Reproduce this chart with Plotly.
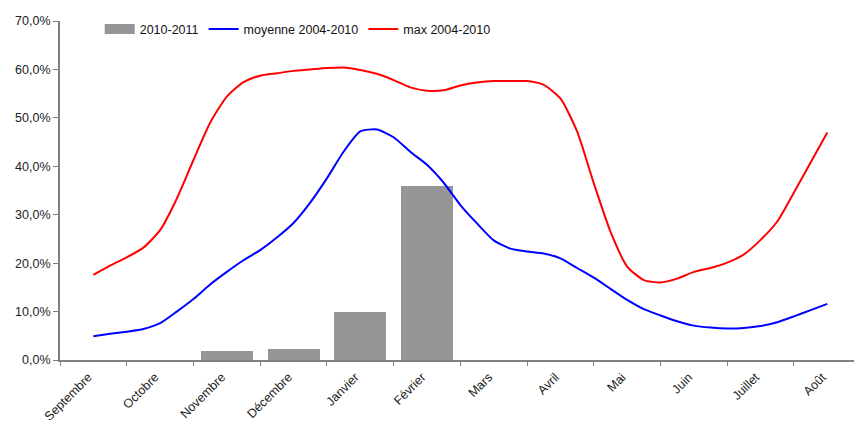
import plotly.graph_objects as go

# Month categories (hydrological year, September to August)
months = ["Septembre", "Octobre", "Novembre", "Décembre", "Janvier", "Février",
          "Mars", "Avril", "Mai", "Juin", "Juillet", "Août"]

# 2010-2011 monthly values (%)
bar_months = ["Novembre", "Décembre", "Janvier", "Février"]
bar_values = [1.8, 2.2, 10.0, 36.0]

# Weekly-ish readings (4 per month), expressed as month position from Septembre
line_x = [i * 0.25 for i in range(45)]

moyenne = [4.9, 5.4, 5.85, 6.4, 7.6, 10.0, 12.6, 15.6, 18.2, 20.6, 22.7, 25.3,
           28.3, 32.5, 37.5, 43.0, 47.2, 47.6, 46.0, 43.0, 40.3, 36.6, 32.0, 28.2,
           24.7, 23.0, 22.4, 22.0, 21.0, 19.0, 17.0, 14.7, 12.4, 10.5, 9.2, 8.0,
           7.1, 6.7, 6.5, 6.6, 7.0, 7.8, 9.0, 10.3, 11.6]

maximum = [17.6, 19.5, 21.2, 23.2, 26.8, 33.3, 41.3, 49.0, 54.4, 57.4, 58.7, 59.2,
           59.7, 60.0, 60.3, 60.4, 59.9, 59.1, 57.8, 56.3, 55.6, 55.7, 56.7, 57.3,
           57.6, 57.6, 57.6, 56.8, 54.0, 47.2, 36.5, 26.5, 19.3, 16.5, 16.0, 16.8,
           18.2, 19.0, 20.1, 21.8, 24.8, 28.6, 34.6, 40.8, 47.0]

bar_x = [months.index(m) for m in bar_months]
x_range = [-0.5, 11.4]
bar_color = "#969696"

fig = go.Figure()
fig.add_trace(go.Bar(x=bar_x, y=bar_values, width=0.78, name="2010-2011",
                     marker=dict(color=bar_color, line=dict(width=0)),
                     showlegend=False))
# Legend entry for the bars drawn as a wide grey swatch
fig.add_trace(go.Scatter(x=[None], y=[None], mode="lines", name="2010-2011",
                         line=dict(color=bar_color, width=10)))
fig.add_trace(go.Scatter(x=line_x, y=moyenne, mode="lines", name="moyenne 2004-2010",
                         line=dict(color="#0000FF", width=2, shape="spline", smoothing=0.6)))
fig.add_trace(go.Scatter(x=line_x, y=maximum, mode="lines", name="max 2004-2010",
                         line=dict(color="#FF0000", width=2, shape="spline", smoothing=0.6)))

# Invisible helper trace so the boundary-tick axis gets drawn
fig.add_trace(go.Scatter(x=[x_range[0]], y=[0], xaxis="x2", mode="markers",
                         marker=dict(opacity=0), showlegend=False, hoverinfo="skip"))

font_family = "Liberation Sans, Arial, sans-serif"

fig.update_layout(
    width=854, height=426,
    margin=dict(l=60, r=0, t=21, b=66),
    paper_bgcolor="white", plot_bgcolor="white",
    separators=", ",
    font=dict(family=font_family, size=12, color="#222222"),
    showlegend=True,
    legend=dict(orientation="h", x=0.05, y=0.975, xanchor="left", yanchor="middle",
                bgcolor="rgba(0,0,0,0)", font=dict(size=12.5, color="#111111"),
                itemwidth=30, tracegroupgap=0),
    bargap=0,
    xaxis=dict(range=x_range, tickmode="array", tickvals=list(range(len(months))),
               ticktext=months, tickangle=-45, ticks="", showgrid=False, zeroline=False,
               showline=True, linecolor="#808080", linewidth=2, automargin=False,
               ticklabelshift=-5, ticklabelstandoff=3,
               tickfont=dict(size=12.5, color="#222222")),
    xaxis2=dict(range=x_range, overlaying="x", anchor="y", side="bottom",
                tickmode="array", tickvals=[i - 0.5 for i in range(13)],
                ticks="outside", ticklen=5, tickcolor="#808080", tickwidth=1,
                showticklabels=False, showgrid=False, zeroline=False, showline=False,
                automargin=False),
    yaxis=dict(range=[0, 70], dtick=10, tickformat=".1f", ticksuffix="%",
               ticks="outside", ticklen=5, tickcolor="#808080",
               showgrid=False, zeroline=False, showline=True,
               linecolor="#808080", linewidth=2, automargin=False,
               tickfont=dict(size=12.5, color="#222222")),
)

fig.write_html("out.html")
